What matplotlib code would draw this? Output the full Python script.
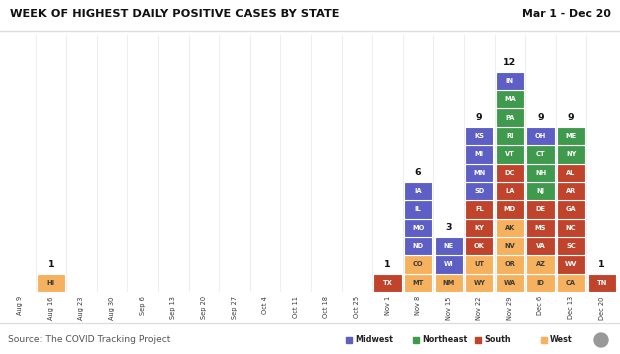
import matplotlib.pyplot as plt
import matplotlib.patches as mpatches

weeks = ['Aug 9', 'Aug 16', 'Aug 23', 'Aug 30', 'Sep 6', 'Sep 13', 'Sep 20',
         'Sep 27', 'Oct 4', 'Oct 11', 'Oct 18', 'Oct 25', 'Nov 1', 'Nov 8',
         'Nov 15', 'Nov 22', 'Nov 29', 'Dec 6', 'Dec 13', 'Dec 20']

# states per week, bottom to top, with region
peak_states = {
    'Aug 16': [('HI', 'West')],
    'Nov 1': [('TX', 'South')],
    'Nov 8': [('MT', 'West'), ('CO', 'West'), ('ND', 'Midwest'), ('MO', 'Midwest'),
              ('IL', 'Midwest'), ('IA', 'Midwest')],
    'Nov 15': [('NM', 'West'), ('WI', 'Midwest'), ('NE', 'Midwest')],
    'Nov 22': [('WY', 'West'), ('UT', 'West'), ('OK', 'South'), ('KY', 'South'),
               ('FL', 'South'), ('SD', 'Midwest'), ('MN', 'Midwest'), ('MI', 'Midwest'),
               ('KS', 'Midwest')],
    'Nov 29': [('WA', 'West'), ('OR', 'West'), ('NV', 'West'), ('AK', 'West'),
               ('MD', 'South'), ('LA', 'South'), ('DC', 'South'), ('VT', 'Northeast'),
               ('RI', 'Northeast'), ('PA', 'Northeast'), ('MA', 'Northeast'),
               ('IN', 'Midwest')],
    'Dec 6': [('ID', 'West'), ('AZ', 'West'), ('VA', 'South'), ('MS', 'South'),
              ('DE', 'South'), ('NJ', 'Northeast'), ('NH', 'Northeast'),
              ('CT', 'Northeast'), ('OH', 'Midwest')],
    'Dec 13': [('CA', 'West'), ('WV', 'South'), ('SC', 'South'), ('NC', 'South'),
               ('GA', 'South'), ('AR', 'South'), ('AL', 'South'), ('NY', 'Northeast'),
               ('ME', 'Northeast')],
    'Dec 20': [('TN', 'South')],
}

regions = ['Midwest', 'Northeast', 'South', 'West']
region_colors = {'Midwest': '#5d5fc4', 'Northeast': '#3f9a4e',
                 'South': '#c0432b', 'West': '#f6b15e'}
label_colors = {'Midwest': 'white', 'Northeast': 'white',
                'South': 'white', 'West': '#3a3a3a'}

W, H = 620, 354
fig = plt.figure(figsize=(W / 100, H / 100), dpi=100)
fig.patch.set_facecolor('white')

# header / footer
fig.text(10 / W, 1 - 14 / H, 'WEEK OF HIGHEST DAILY POSITIVE CASES BY STATE',
         fontsize=8.2, fontweight='bold', color='#111111', va='center')
fig.text(611 / W, 1 - 14 / H, 'Mar 1 - Dec 20', fontsize=7.8, fontweight='bold',
         color='#111111', va='center', ha='right')
fig.add_artist(plt.Line2D([0, 1], [1 - 31 / H, 1 - 31 / H], color='#dddddd', lw=1))
fig.add_artist(plt.Line2D([0, 1], [1 - 323 / H, 1 - 323 / H], color='#dddddd', lw=1))
fig.text(8 / W, 1 - 339 / H, 'Source: The COVID Tracking Project', fontsize=6.6,
         color='#555555', va='center')

ax = fig.add_axes([5 / W, 62 / H, 612 / W, 257 / H])
ax.set_xlim(-0.5, len(weeks) - 0.5)
ax.set_ylim(0, 14)

for i in range(1, len(weeks)):
    ax.axvline(i - 0.5, color='#eeeeee', lw=0.8, zorder=0)

for i, wk in enumerate(weeks):
    stack = peak_states.get(wk, [])
    for j, (st, reg) in enumerate(stack):
        ax.bar(i, 1, bottom=j, width=0.92, color=region_colors[reg],
               edgecolor='white', linewidth=0.8, zorder=2)
        ax.text(i, j + 0.5, st, ha='center', va='center', fontsize=4.8,
                fontweight='bold', color=label_colors[reg], zorder=3)
    if stack:
        ax.text(i, len(stack) + 0.25, str(len(stack)), ha='center', va='bottom',
                fontsize=6.8, fontweight='bold', color='#111111')

ax.set_xticks(range(len(weeks)))
ax.set_xticklabels(weeks, rotation=90, fontsize=4.8, color='#333333')
ax.tick_params(axis='x', length=0, pad=3)
ax.set_yticks([])
for s in ax.spines.values():
    s.set_visible(False)

# legend: square + bold label
leg_x = [346, 413, 475, 541]
for r, x in zip(regions, leg_x):
    fig.add_artist(mpatches.Rectangle((x / W, 1 - 343 / H), 6 / W, 6 / H,
                                      transform=fig.transFigure,
                                      color=region_colors[r]))
    fig.text((x + 9) / W, 1 - 339.5 / H, r, fontsize=5.8, fontweight='bold',
             color='#222222', va='center')

# small logo mark
fig.add_artist(mpatches.Ellipse((601 / W, 1 - 340 / H), 14 / W, 14 / H,
                                transform=fig.transFigure, color='#999999'))

fig.savefig('out.png', dpi=100)
